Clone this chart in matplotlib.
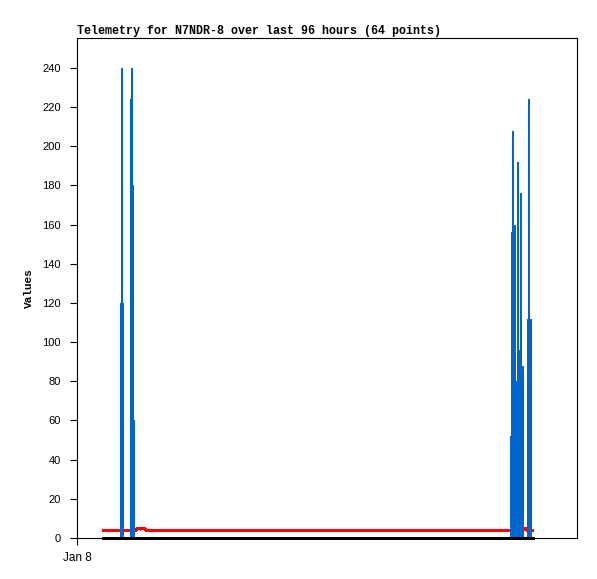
import matplotlib
matplotlib.use("Agg")
import matplotlib.pyplot as plt

# Blue series: hours since Jan 8 00:00 and values
blue_hours = [8.448, 8.640, 8.832, 10.368, 10.560, 10.752, 10.944,
              83.328, 83.520, 83.712, 84.096, 84.288, 84.672, 85.056,
              85.248, 85.632, 86.592, 86.784, 87.168]
blue_vals = [120, 240, 120, 224, 240, 180, 60,
             52, 156, 208, 160, 80, 192, 96,
             176, 88, 112, 224, 112]

# Red series
red_hours = [4.80, 11.33, 11.62, 12.00, 12.19, 12.38, 12.96, 13.25,
             85.63, 85.82, 86.02, 86.21, 86.40, 87.65]
red_vals = [4, 4, 5, 5, 4.5, 5, 5, 4,
            4, 4.5, 5, 5, 4, 4]

# Black series
black_hours = [4.80, 87.65]
black_vals = [0, 0]

yticks = list(range(0, 241, 20))
xtick_labels = ["Jan 8"]
title = "Telemetry for N7NDR-8 over last 96 hours (64 points)"

W, H = 597, 579
fig = plt.figure(figsize=(W / 100, H / 100), dpi=100)
ax = fig.add_axes([77 / W, (H - 538) / H, 500 / W, 500 / H])

lw = 1.44  # 2 px
ax.plot(red_hours, red_vals, color="#ff0000", lw=lw, antialiased=False,
        solid_joinstyle="round", solid_capstyle="butt", zorder=2)
ax.vlines(blue_hours, 0, blue_vals, color="#0066cc", lw=lw, antialiased=False,
          capstyle="butt", zorder=3)
ax.plot(black_hours, black_vals, color="#000000", lw=2.16, antialiased=False,
        solid_capstyle="butt", clip_on=False, zorder=4)

ax.set_xlim(0, 96)
ax.set_ylim(0, 255.3)
ax.set_yticks(yticks)
ax.set_yticklabels([str(v) for v in yticks], fontsize=8, family="Liberation Sans")
ax.set_xticks([0])
ax.set_xticklabels(xtick_labels, fontsize=8.5, family="Liberation Sans")
ax.tick_params(axis="both", direction="out", length=5, width=0.8, color="black")
ax.tick_params(axis="y", pad=6.5)
ax.tick_params(axis="x", pad=5)
for s in ax.spines.values():
    s.set_linewidth(0.8)
    s.set_color("black")

fig.text(77 / W, 1 - 34 / H, title, fontsize=8.4, family="Liberation Mono",
         fontweight="bold", ha="left", va="baseline")
fig.text(29 / W, 1 - 288 / H, "Values", fontsize=8, family="Liberation Mono",
         fontweight="bold", rotation=90, ha="center", va="center")

fig.savefig("out.png", dpi=100)
